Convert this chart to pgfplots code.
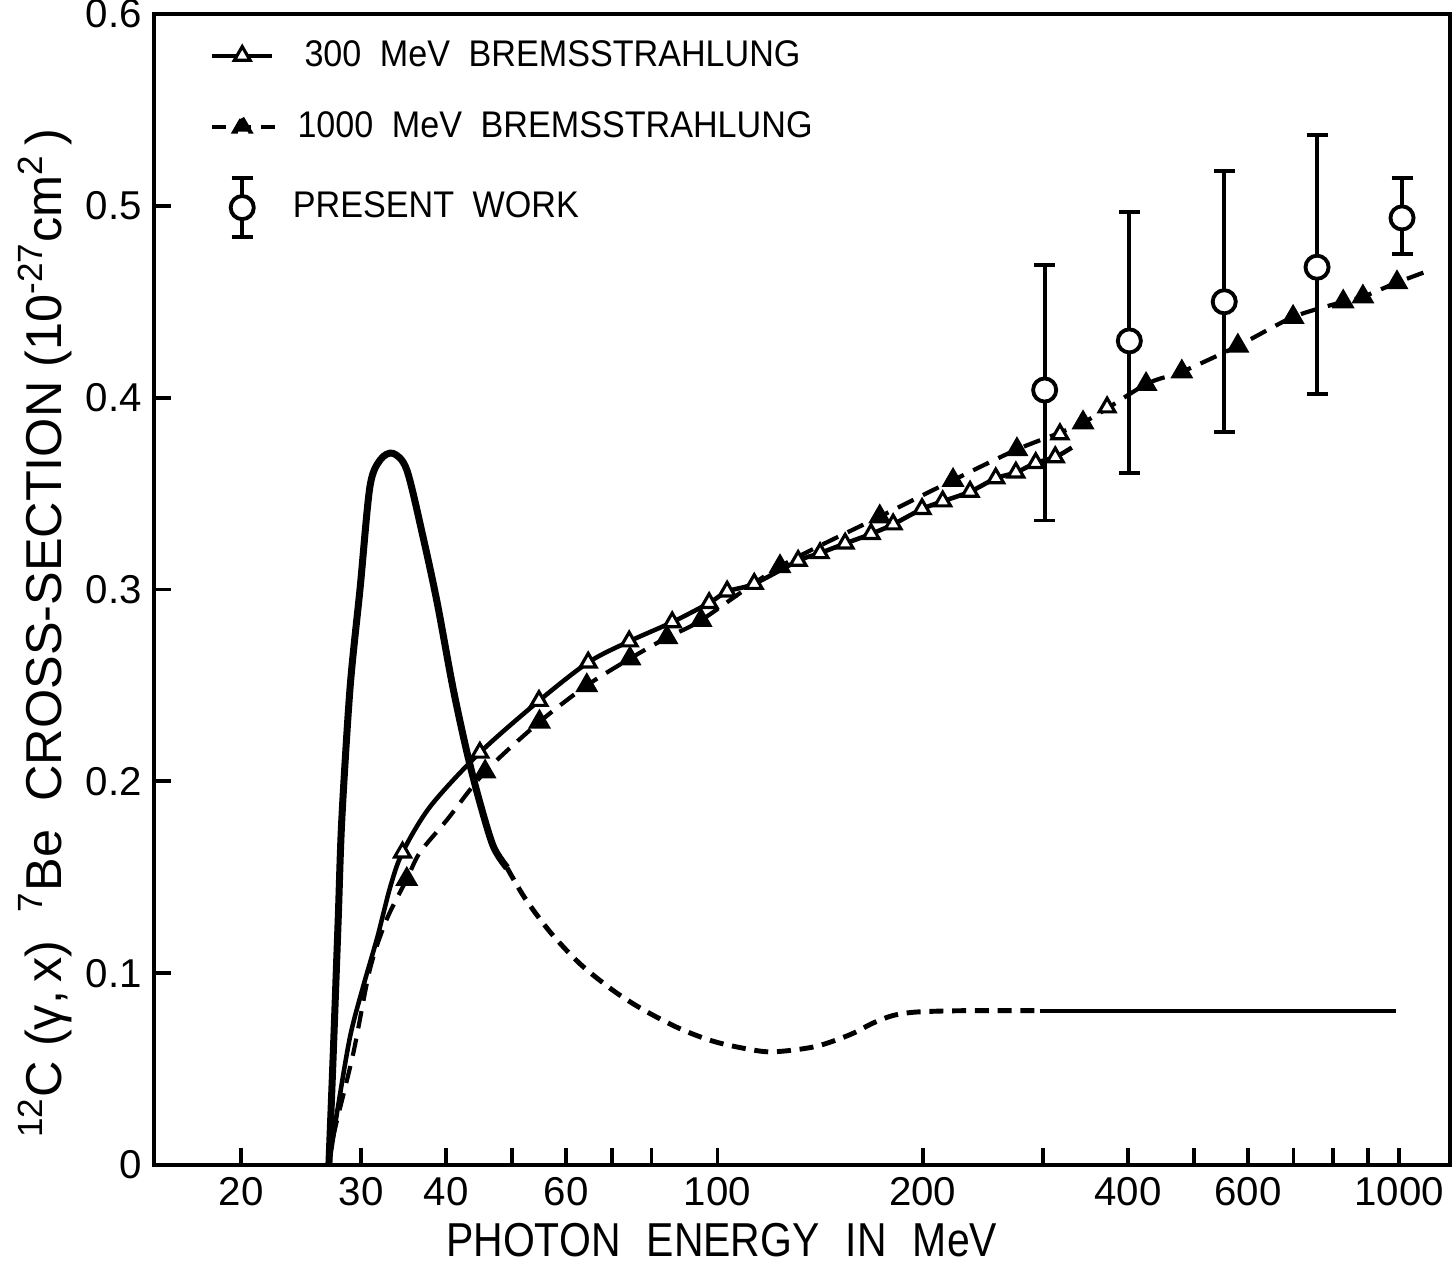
\documentclass[border=0pt]{standalone}
\usepackage{fontspec}
\setmainfont{Liberation Sans}
\newfontfamily\narrowfont[FakeStretch=0.86]{Liberation Sans}
\newfontfamily\legfont[FakeStretch=0.92]{Liberation Sans}
\usepackage{pgfplots}
\pgfplotsset{compat=1.18}

\begin{document}
\begin{tikzpicture}
\begin{axis}[name=ax,
  scale only axis, width=370.3pt, height=328.9pt,
  xmode=log, xmin=14.9, xmax=1188, ymin=0, ymax=0.6,
  axis line style={line width=1.2pt},
  xtick={20,30,40,50,60,70,80,100,200,300,400,500,600,700,800,900,1000},
  xticklabels={20,30,40,{},60,{},{},100,200,{},400,{},600,{},{},{},1000},
  xminorticks=false,
  ytick={0,0.1,0.2,0.3,0.4,0.5,0.6},
  yticklabels={0,0.1,0.2,0.3,0.4,0.5,0.6},
  tick pos=left, tick align=inside,
  major tick length=5pt, tick style={line width=1.1pt, black},
  tick label style={font=\fontsize{11.5}{13}\selectfont},
  xlabel={PHOTON\hspace{0.55em}ENERGY\hspace{0.55em}IN\hspace{0.55em}MeV},
  xlabel style={font=\narrowfont\fontsize{13.6}{16}\selectfont, at={(axis description cs:0.438,0)}, anchor=north, yshift=-13pt},
  ylabel={\textsuperscript{12}C\ (γ,\,x)\ \ \textsuperscript{7}Be\ \ CROSS-SECTION\ (10\textsuperscript{-27}cm\textsuperscript{2}\,)},
  ylabel style={font=\fontsize{14.4}{16}\selectfont, at={(axis description cs:-0.0841,0.462)}, anchor=center},
  legend style={at={(axis description cs:0.043,0.984)}, anchor=north west, draw=none, fill=none,
    inner sep=0pt, row sep=7.5pt, font=\legfont\fontsize{10.6}{12}\selectfont},
  legend cell align=left,
]
% threshold peak curve
\addplot[forget plot, line width=2pt, smooth, tension=0.5] coordinates {
(26.9,0) (27.3,0.058) (27.76,0.128) (28.1,0.180) (28.9,0.249) (29.9,0.301) (30.9,0.3535)
(32.0,0.3676) (33.4,0.371) (35.0,0.3624) (37.0,0.327) (38.8,0.293) (40.9,0.249)
(42.9,0.215) (44.8,0.189) (46.9,0.166) (49.1,0.155)};
\addplot[forget plot, line width=1.4pt, smooth, dash pattern=on 4pt off 2.5pt] coordinates {
(49.1,0.155) (52.2,0.139) (56.8,0.1215) (62.8,0.105) (70.3,0.091) (77.8,0.081) (88.2,0.071)
(99.8,0.064) (115.5,0.0594) (124.8,0.0594) (140,0.062) (156.5,0.068) (169,0.074) (181,0.078)
(196,0.0798) (230,0.0805) (297,0.0805)};
\addplot[forget plot, line width=1.2pt] coordinates {(297,0.0805) (990,0.0805)};

% 300 MeV bremsstrahlung
\addplot[line width=1.3pt, smooth, tension=0.5, mark=triangle*, mark size=2.6pt,
  mark options={fill=white, solid, line width=0.9pt},
  mark indices={7,9,10,11,12,13,14,15,16,17,18,19,20,21,22,23,24,25,26,27,28},
  legend image code/.code={
    \draw[line width=1.1pt] (0cm,0cm) -- (0.6cm,0cm);
    \draw[line width=0.9pt, fill=white] (0.3cm,2.6pt) -- (0.3cm+2.25pt,-1.3pt) -- (0.3cm-2.25pt,-1.3pt) -- cycle;
  }] coordinates {
(26.9,0) (27.7,0.029) (28.9,0.067) (30.2,0.093) (31.7,0.119) (33.1,0.145) (34.5,0.163)
(37.9,0.187) (44.8,0.215) (54.7,0.242) (64.6,0.262) (74.2,0.273) (85.8,0.283) (97.2,0.293)
(103.3,0.299) (113.2,0.303) (131.3,0.315) (141.4,0.319) (153.9,0.324) (168,0.329) (181,0.334)
(199.6,0.342) (214,0.346) (234.7,0.351) (256,0.358) (274,0.361) (293,0.366) (313,0.369)
(331,0.374)};
\addlegendentry{\hspace*{5pt}300\hspace{0.5em}MeV\hspace{0.5em}BREMSSTRAHLUNG}

% 1000 MeV bremsstrahlung
\addplot[line width=1.2pt, smooth, tension=0.5, dash pattern=on 5pt off 3pt,
  mark=triangle*, mark size=2.6pt, mark options={fill=black, solid},
  mark indices={6,9,10,11,12,13,14,15,16,17,18,19,20,21,22,23,24,25,26},
  legend image code/.code={
    \draw[line width=1.1pt, dash pattern=on 4pt off 3pt] (0cm,0cm) -- (0.66cm,0cm);
    \fill (0.3cm,2.6pt) -- (0.3cm+2.25pt,-1.3pt) -- (0.3cm-2.25pt,-1.3pt) -- cycle;
  }] coordinates {
(26.9,0) (27.3,0.015) (29.2,0.058) (30.9,0.102) (32.7,0.128) (35.0,0.149) (36.6,0.163)
(40.1,0.180) (45.6,0.205) (54.8,0.231) (64.3,0.250) (74.4,0.264) (84.3,0.275) (94.6,0.284)
(123.5,0.312) (173,0.338) (221.6,0.357) (275,0.373) (343.8,0.387) (425.4,0.407) (480,0.4135)
(580,0.427) (699,0.442) (828,0.450) (885,0.4526) (993,0.460) (1121,0.467)};
\addlegendentry{\hspace*{3pt}1000\hspace{0.5em}MeV\hspace{0.5em}BREMSSTRAHLUNG}
\addplot[forget plot, only marks, mark=triangle*, mark size=2.6pt,
  mark options={fill=white, line width=0.9pt}] coordinates {(318,0.381) (372.9,0.395)};

% present work
\addplot[only marks, mark=*, mark size=3.3pt, mark options={fill=white, line width=1.1pt},
  error bars/.cd, y dir=both, y explicit,
  error bar style={line width=1.1pt},
  error mark options={rotate=90, line width=1.1pt, mark size=3pt, black},
  /pgfplots/legend image code/.code={
    \draw[line width=1.1pt] (0.3cm,-8.5pt) -- (0.3cm,8.5pt);
    \draw[line width=1.1pt] (0.3cm-3pt,-8.5pt) -- (0.3cm+3pt,-8.5pt);
    \draw[line width=1.1pt] (0.3cm-3pt,8.5pt) -- (0.3cm+3pt,8.5pt);
    \draw[line width=1.1pt, fill=white] (0.3cm,0pt) circle[radius=3.3pt];
    \path (0pt,0pt) (0.66cm,0pt);
  }] coordinates {
(302,0.404) += (0,0.065) -= (0,0.068)
(402,0.4296) += (0,0.067) -= (0,0.069)
(554,0.450) += (0,0.068) -= (0,0.068)
(758,0.468) += (0,0.069) -= (0,0.066)
(1010,0.4937) += (0,0.021) -= (0,0.019)};
\addlegendentry{\hspace*{1.7pt}PRESENT\hspace{0.5em}WORK}
\end{axis}
\pgfresetboundingbox
\path ([xshift=-44pt,yshift=-29.1pt]ax.south west) rectangle ([xshift=1.7pt,yshift=4pt]ax.north east);
\end{tikzpicture}
\end{document}
